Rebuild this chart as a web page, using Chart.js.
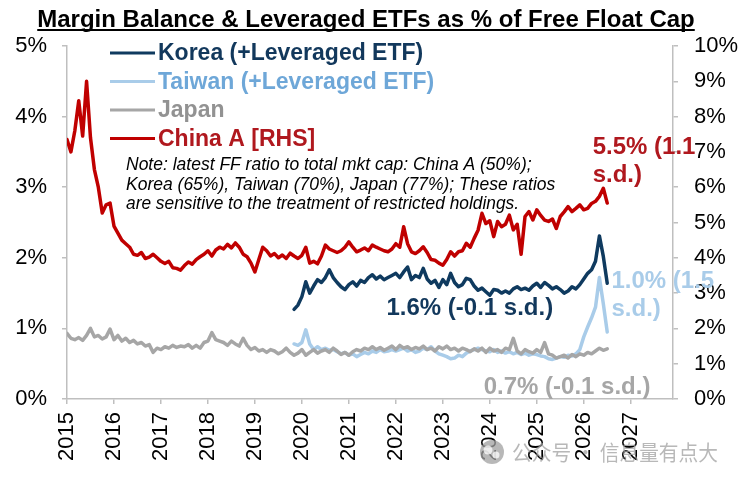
<!DOCTYPE html>
<html>
<head>
<meta charset="utf-8">
<script src="https://cdn.jsdelivr.net/npm/chart.js@4.4.1/dist/chart.umd.min.js"></script>
<style>
  html, body { margin: 0; padding: 0; background: #fff; }
  #wrap { width: 742px; height: 482px; position: relative; }
</style>
</head>
<body>
<div id="wrap"><canvas id="chart"></canvas></div>
<script>
'use strict';
// monthly observations, Jan 2015 .. Jul 2026
const months = [
  '2015-01','2015-02','2015-03','2015-04','2015-05','2015-06','2015-07','2015-08','2015-09','2015-10','2015-11','2015-12',
  '2016-01','2016-02','2016-03','2016-04','2016-05','2016-06','2016-07','2016-08','2016-09','2016-10','2016-11','2016-12',
  '2017-01','2017-02','2017-03','2017-04','2017-05','2017-06','2017-07','2017-08','2017-09','2017-10','2017-11','2017-12',
  '2018-01','2018-02','2018-03','2018-04','2018-05','2018-06','2018-07','2018-08','2018-09','2018-10','2018-11','2018-12',
  '2019-01','2019-02','2019-03','2019-04','2019-05','2019-06','2019-07','2019-08','2019-09','2019-10','2019-11','2019-12',
  '2020-01','2020-02','2020-03','2020-04','2020-05','2020-06','2020-07','2020-08','2020-09','2020-10','2020-11','2020-12',
  '2021-01','2021-02','2021-03','2021-04','2021-05','2021-06','2021-07','2021-08','2021-09','2021-10','2021-11','2021-12',
  '2022-01','2022-02','2022-03','2022-04','2022-05','2022-06','2022-07','2022-08','2022-09','2022-10','2022-11','2022-12',
  '2023-01','2023-02','2023-03','2023-04','2023-05','2023-06','2023-07','2023-08','2023-09','2023-10','2023-11','2023-12',
  '2024-01','2024-02','2024-03','2024-04','2024-05','2024-06','2024-07','2024-08','2024-09','2024-10','2024-11','2024-12',
  '2025-01','2025-02','2025-03','2025-04','2025-05','2025-06','2025-07','2025-08','2025-09','2025-10','2025-11','2025-12',
  '2026-01','2026-02','2026-03','2026-04','2026-05','2026-06','2026-07'
];
const asiaStart = '2019-11';   // Korea / Taiwan series begin here

// China A, % of free float cap [RHS]
const chinaA = [
  7.35, 7.0, 7.6, 8.45, 7.45, 9.0, 7.4, 6.5, 6.0, 5.27, 5.5, 5.55,
  4.9, 4.7, 4.5, 4.4, 4.3, 4.1, 4.07, 4.15, 3.98, 4.02, 4.1, 4.0,
  3.9, 3.84, 3.9, 3.72, 3.7, 3.65, 3.78, 3.88, 3.82, 3.95, 4.03, 4.1,
  4.2, 4.05, 4.22, 4.3, 4.25, 4.38, 4.28, 4.42, 4.3, 4.1, 4.03, 3.85,
  3.6, 3.95, 4.3, 4.2, 4.05, 4.12, 4.0, 4.08, 3.98, 4.13, 4.05, 3.98,
  4.07, 4.3, 3.85, 3.9, 3.83, 4.05, 4.36, 4.25, 4.2, 4.15, 4.2, 4.3,
  4.45, 4.3, 4.17, 4.22, 4.28, 4.2, 4.36, 4.3, 4.25, 4.2, 4.17, 4.25,
  4.4, 4.3, 4.88, 4.4, 4.17, 4.12, 4.2, 4.31, 4.15, 3.95, 3.93, 3.85,
  3.79, 3.95, 4.17, 4.05, 4.17, 4.2, 4.41, 4.3, 4.55, 4.78, 5.26, 4.97,
  5.05, 4.6, 5.03, 4.88, 4.95, 5.21, 4.79, 4.95, 4.1, 5.17, 5.31, 5.07,
  5.36, 5.2, 5.07, 5.03, 5.1, 4.83, 5.17, 5.3, 5.45, 5.31, 5.4, 5.5,
  5.36, 5.4, 5.54, 5.6, 5.74, 5.97, 5.55
];
const japan = [
  0.93, 0.86, 0.84, 0.87, 0.83, 0.9, 1.0, 0.88, 0.9, 0.85, 0.88, 0.99,
  0.84, 0.9, 0.82, 0.86, 0.8, 0.83, 0.78, 0.8, 0.75, 0.77, 0.66, 0.72,
  0.7, 0.74, 0.72, 0.76, 0.73, 0.75, 0.74, 0.77, 0.72, 0.76, 0.72, 0.8,
  0.82, 0.94, 0.84, 0.82, 0.8, 0.76, 0.82, 0.78, 0.75, 0.86, 0.76, 0.7,
  0.73, 0.68, 0.7, 0.66, 0.7, 0.68, 0.64, 0.67, 0.72, 0.66, 0.62, 0.65,
  0.7, 0.62, 0.66, 0.7, 0.65, 0.68, 0.7, 0.66, 0.72, 0.68, 0.63, 0.66,
  0.62, 0.67, 0.7, 0.68, 0.72, 0.7, 0.74, 0.7, 0.73, 0.69, 0.72, 0.75,
  0.7, 0.76, 0.72, 0.74, 0.7, 0.73, 0.71, 0.75, 0.7, 0.72, 0.68, 0.74,
  0.71, 0.75, 0.7, 0.72, 0.68, 0.72, 0.7, 0.67, 0.71, 0.68, 0.72, 0.66,
  0.72, 0.68, 0.7, 0.66, 0.72, 0.7, 0.86, 0.68, 0.64, 0.7, 0.67, 0.65,
  0.7, 0.66, 0.8, 0.64, 0.62, 0.58, 0.6, 0.62, 0.58, 0.63, 0.6, 0.64,
  0.62, 0.66, 0.64, 0.68, 0.72, 0.69, 0.71
];
// from Nov 2019
const korea = [
  1.27, 1.33,
  1.45, 1.66, 1.5, 1.6, 1.69, 1.65, 1.72, 1.83, 1.72, 1.65, 1.59, 1.55,
  1.62, 1.66, 1.6, 1.68, 1.65, 1.72, 1.76, 1.7, 1.74, 1.69, 1.72, 1.75,
  1.78, 1.72, 1.8, 1.87, 1.69, 1.75, 1.72, 1.85, 1.7, 1.64, 1.68, 1.58,
  1.69, 1.62, 1.78, 1.65, 1.59, 1.62, 1.71, 1.69, 1.6, 1.54, 1.57, 1.52,
  1.47, 1.55, 1.54, 1.5, 1.53, 1.5, 1.56, 1.59, 1.55, 1.57, 1.54, 1.6,
  1.64, 1.58, 1.65, 1.61, 1.56, 1.59, 1.55, 1.5, 1.53, 1.59, 1.56, 1.62,
  1.7, 1.78, 1.83, 1.95, 2.31, 2.02, 1.64
];
const taiwan = [
  0.78, 0.76,
  0.8, 0.98, 0.78, 0.7, 0.74, 0.7, 0.72, 0.69, 0.7, 0.67, 0.64, 0.66,
  0.62, 0.64, 0.6, 0.63, 0.66, 0.64, 0.68, 0.66, 0.7, 0.67, 0.68, 0.7,
  0.68, 0.7, 0.72, 0.68, 0.7, 0.66, 0.68, 0.72, 0.7, 0.74, 0.68, 0.64,
  0.62, 0.6, 0.57, 0.58, 0.62, 0.6, 0.65, 0.68, 0.7, 0.72, 0.7, 0.68,
  0.67, 0.7, 0.66, 0.68, 0.65, 0.67, 0.64, 0.66, 0.63, 0.65, 0.62, 0.64,
  0.63, 0.61, 0.6, 0.57, 0.56, 0.58, 0.6, 0.59, 0.62, 0.61, 0.64, 0.7,
  0.88, 1.02, 1.15, 1.3, 1.72, 1.35, 0.95
];

const yearTicks  = [2015, 2016, 2017, 2018, 2019, 2020, 2021, 2022, 2023, 2024, 2025, 2026, 2027];
const leftTicks  = ['0%', '1%', '2%', '3%', '4%', '5%'];
const rightTicks = ['0%', '1%', '2%', '3%', '4%', '5%', '6%', '7%', '8%', '9%', '10%'];

const FONT = '"Liberation Sans", Arial, Helvetica, sans-serif';
const C = {
  korea: '#0f3a5f', koreaTxt: '#12385c',
  taiwan: '#a9cce9', taiwanTxt: '#6ea7d8',
  japan: '#a6a6a6', japanTxt: '#929292',
  china: '#c00000', chinaTxt: '#b0181e',
  axis: '#bfbfbf',
};

const toYear = m => +m.slice(0, 4) + (+m.slice(5, 7) - 1) / 12;
const series = (labels, vals) => labels.map((m, i) => ({ x: toYear(m), y: vals[i] }));
const asiaMonths = months.slice(months.indexOf(asiaStart));

const line = (label, data, color, axis) => ({
  label, data, yAxisID: axis,
  borderColor: color, backgroundColor: color,
  borderWidth: 3.5, pointRadius: 0, tension: 0,
  borderJoinStyle: 'round', borderCapStyle: 'round', fill: false,
});

const overlay = {
  id: 'overlay',
  afterDraw(chart) {
    const ctx = chart.ctx;
    const xs = chart.scales.x, yl = chart.scales.y, yr = chart.scales.y1;
    ctx.save();

    // title + underline
    const title = 'Margin Balance & Leveraged ETFs as % of Free Float Cap';
    ctx.font = 'bold 24px ' + FONT;
    ctx.fillStyle = '#000';
    ctx.textAlign = 'center';
    ctx.textBaseline = 'alphabetic';
    ctx.fillText(title, 366, 27);
    const tw = ctx.measureText(title).width;
    ctx.fillRect(366 - tw / 2, 29, tw, 2);

    // legend
    const rows = [
      ['Korea (+Leveraged ETF)', C.korea, C.koreaTxt],
      ['Taiwan (+Leveraged ETF)', C.taiwan, C.taiwanTxt],
      ['Japan', C.japan, C.japanTxt],
      ['China A [RHS]', C.china, C.chinaTxt],
    ];
    ctx.textAlign = 'left';
    ctx.textBaseline = 'middle';
    ctx.font = 'bold 23px ' + FONT;
    rows.forEach((r, i) => {
      const y = 53 + i * 28.5;
      ctx.strokeStyle = r[1];
      ctx.lineWidth = 3;
      ctx.beginPath(); ctx.moveTo(110, y); ctx.lineTo(155, y); ctx.stroke();
      ctx.fillStyle = r[2];
      ctx.fillText(r[0], 158, y + 1);
    });

    // note
    ctx.fillStyle = '#000';
    ctx.font = 'italic 17.5px ' + FONT;
    ctx.fillText('Note: latest FF ratio to total mkt cap: China A (50%);', 126, 165, 406);
    ctx.fillText('Korea (65%), Taiwan (70%), Japan (77%); These ratios', 126, 185, 431);
    ctx.fillText('are sensitive to the treatment of restricted holdings.', 126, 204, 393);

    // end-of-series call-outs, anchored in data units
    ctx.font = 'bold 24px ' + FONT;
    const callout = (lines, yr_, scaleY, v, color) => {
      ctx.fillStyle = color;
      const px = xs.getPixelForValue(yr_), py = scaleY.getPixelForValue(v);
      lines.forEach((t, i) => ctx.fillText(t, px, py + i * 28));
    };
    callout(['5.5% (1.1', 's.d.)'], 2026.19, yr, 7.14, C.chinaTxt);
    callout(['1.6% (-0.1 s.d.)'], 2021.8, yl, 1.29, C.koreaTxt);
    callout(['1.0% (1.5', 's.d.)'], 2026.59, yl, 1.66, C.taiwan);
    callout(['0.7% (-0.1 s.d.)'], 2023.87, yl, 0.17, C.japan);

    // watermark
    ctx.globalAlpha = 0.75;
    ctx.fillStyle = '#a0a0a0';
    ctx.beginPath(); ctx.arc(492, 452, 12, 0, Math.PI * 2); ctx.fill();
    ctx.fillStyle = '#fff';
    ctx.beginPath(); ctx.arc(488, 450, 4.5, 0, Math.PI * 2); ctx.fill();
    ctx.beginPath(); ctx.arc(496, 455, 3.5, 0, Math.PI * 2); ctx.fill();
    ctx.fillStyle = '#a0a0a0';
    ctx.font = '21px "Noto Sans CJK SC", sans-serif';
    ctx.textBaseline = 'middle';
    ctx.fillText('公众号 · 信息量有点大', 512, 452, 206);
    ctx.restore();
  }
};

const axisGrid = { drawOnChartArea: false, drawTicks: true, tickLength: 5, color: C.axis, lineWidth: 1.5 };
const axisBorder = { display: true, color: C.axis, width: 1.5 };

new Chart(document.getElementById('chart'), {
  type: 'line',
  data: {
    datasets: [
      line('Korea (+Leveraged ETF)', series(asiaMonths, korea), C.korea, 'y'),
      line('Japan', series(months, japan), C.japan, 'y'),
      line('Taiwan (+Leveraged ETF)', series(asiaMonths, taiwan), C.taiwan, 'y'),
      line('China A [RHS]', series(months, chinaA), C.china, 'y1'),
    ],
  },
  options: {
    responsive: true, maintainAspectRatio: false, animation: false,
    devicePixelRatio: 1,
    layout: { padding: { top: 46, left: 0, right: 0, bottom: 0 } },
    plugins: { legend: { display: false }, tooltip: { enabled: false }, title: { display: false } },
    scales: {
      x: {
        type: 'linear', min: 2015, max: 2027.9,
        afterBuildTicks: s => { s.ticks = yearTicks.map(v => ({ value: v })); },
        afterFit: s => { s.height = 83; },
        grid: axisGrid, border: axisBorder,
        ticks: {
          autoSkip: false, minRotation: 90, maxRotation: 90, padding: 8,
          color: '#000', font: { size: 22, family: FONT },
          callback: v => String(v),
        },
      },
      y: {
        position: 'left', min: 0, max: 5,
        afterFit: s => { s.width = 67; },
        grid: axisGrid, border: axisBorder,
        ticks: { stepSize: 1, padding: 15, color: '#000', font: { size: 22, family: FONT }, callback: v => leftTicks[v] },
      },
      y1: {
        position: 'right', min: 0, max: 10,
        afterFit: s => { s.width = 69; },
        grid: axisGrid, border: axisBorder,
        ticks: { stepSize: 1, padding: 16, color: '#000', font: { size: 22, family: FONT }, callback: v => rightTicks[v] },
      },
    },
  },
  plugins: [overlay],
});
</script>
</body>
</html>
